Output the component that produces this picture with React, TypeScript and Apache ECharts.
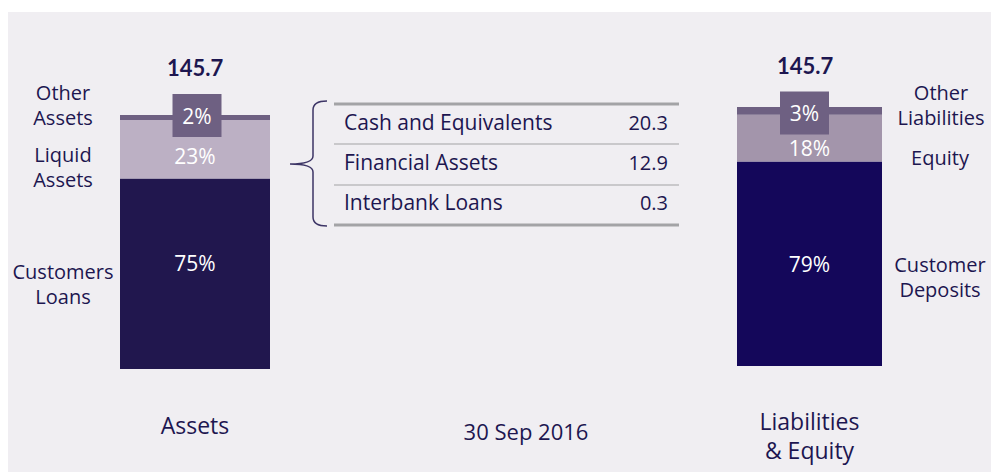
import React, { useEffect, useRef } from "react";
import * as echarts from "echarts";

const barCategories = ["Assets", "Liabilities\n& Equity"];
const assetNames = ["Customers\nLoans", "Liquid\nAssets", "Other\nAssets"];
const assetShares = [75, 23, 2];
const liabNames = ["Customer\nDeposits", "Equity", "Other\nLiabilities"];
const liabShares = [79, 18, 3];
const totals = ["145.7", "145.7"];
const liquidItems = ["Cash and Equivalents", "Financial Assets", "Interbank Loans"];
const liquidValues = ["20.3", "12.9", "0.3"];
const dateLabel = "30 Sep 2016";

const FONT = "'Open Sans', sans-serif";
const BOLD_FONT = "Lato, sans-serif";
const NAVY = "#1d1650";
const assetColors = ["#21174e", "#bcb0c4", "#6e6082"];
const liabColors = ["#14075a", "#a395ab", "#6e6082"];

echarts.graphic.registerShape(
  "brace",
  echarts.graphic.extendPath(
    "M327,101 Q313,101 313,110 L313,156 Q313,164 290,164 Q313,164 313,172 L313,217 Q313,226 327,226",
    {}
  )
);

export default function App() {
  const ref = useRef<HTMLDivElement>(null);
  useEffect(() => {
    if (!ref.current) return;
    const chart = echarts.init(ref.current, null, { renderer: "svg" });

    const labelBase = { show: true, color: "#fff", fontSize: 21, fontFamily: FONT, formatter: "{c}%" };
    const assetOffsets = [[0, -11], [0, 7], [2, -2]];
    const liabOffsets = [[0, 0], [0, 10], [-5, 2]];

    const mkSeries = (names: string[], vals: number[], colors: string[], offsets: number[][], idx: number) =>
      vals.map((v, i) => ({
        type: "bar",
        name: names[i],
        xAxisIndex: idx,
        yAxisIndex: idx,
        stack: "s" + idx,
        barWidth: "100%",
        data: [v],
        itemStyle: { color: colors[i] },
        label:
          i === vals.length - 1
            ? {
                ...labelBase,
                position: "inside",
                offset: offsets[i],
                backgroundColor: colors[i],
                width: 49,
                height: 43,
                lineHeight: 43,
                align: "center",
                verticalAlign: "middle",
                padding: 0,
              }
            : { ...labelBase, position: "inside", offset: offsets[i] },
      }));

    const sideLabel = (text: string, x: number, y: number) => ({
      type: "text",
      x,
      y,
      style: {
        text,
        fill: NAVY,
        font: `20px ${FONT}`,
        lineHeight: 25,
        align: "center",
        verticalAlign: "middle",
      },
    });

    const rowYs = [122, 162, 202];
    const lineYs = [104, 144, 185, 225];

    const graphics: any[] = [
      { type: "text", x: 195, y: 67, style: { text: totals[0], fill: NAVY, font: `bold 22px ${BOLD_FONT}`, align: "center", verticalAlign: "middle" } },
      { type: "text", x: 805, y: 65, style: { text: totals[1], fill: NAVY, font: `bold 22px ${BOLD_FONT}`, align: "center", verticalAlign: "middle" } },
      sideLabel(assetNames[2], 63, 105),
      sideLabel(assetNames[1], 63, 167),
      sideLabel(assetNames[0], 63, 284),
      sideLabel(liabNames[2], 941, 105),
      sideLabel(liabNames[1], 940, 157),
      sideLabel(liabNames[0], 940, 277),
      { type: "text", x: 526, y: 431, style: { text: dateLabel, fill: NAVY, font: `22px ${FONT}`, align: "center", verticalAlign: "middle" } },
      { type: "brace", shape: {}, style: { stroke: "#3d3566", lineWidth: 1.5, fill: null } },
    ];
    lineYs.forEach((y, i) => {
      const outer = i === 0 || i === lineYs.length - 1;
      graphics.push({
        type: "line",
        shape: { x1: 334, y1: y, x2: 679, y2: y },
        style: { stroke: outer ? "#a3a3a6" : "#c9c8cb", lineWidth: outer ? 3 : 2 },
      });
    });
    liquidItems.forEach((t, i) => {
      graphics.push({ type: "text", x: 344, y: rowYs[i], style: { text: t, fill: NAVY, font: `21px ${FONT}`, align: "left", verticalAlign: "middle" } });
      graphics.push({ type: "text", x: 668, y: rowYs[i], style: { text: liquidValues[i], fill: NAVY, font: `20px ${FONT}`, align: "right", verticalAlign: "middle" } });
    });

    const xAxisBase = {
      type: "category",
      axisLine: { show: false },
      axisTick: { show: false },
      splitLine: { show: false },
    };
    const yAxisBase = { type: "value", min: 0, max: 100, show: false };

    chart.setOption({
      animation: false,
      backgroundColor: "transparent",
      textStyle: { fontFamily: FONT },
      grid: [
        { left: 120, width: 150, top: 115, height: 254 },
        { left: 737, width: 145, top: 107, height: 259 },
      ],
      xAxis: [
        { ...xAxisBase, gridIndex: 0, data: [barCategories[0]], axisLabel: { color: NAVY, fontSize: 23, fontFamily: FONT, lineHeight: 29, margin: 41 } },
        { ...xAxisBase, gridIndex: 1, data: [barCategories[1]], axisLabel: { color: NAVY, fontSize: 23, fontFamily: FONT, lineHeight: 29, margin: 40 } },
      ],
      yAxis: [
        { ...yAxisBase, gridIndex: 0 },
        { ...yAxisBase, gridIndex: 1 },
      ],
      series: [
        ...mkSeries(assetNames, assetShares, assetColors, assetOffsets, 0),
        ...mkSeries(liabNames, liabShares, liabColors, liabOffsets, 1),
      ],
      graphic: graphics,
    });
    return () => chart.dispose();
  }, []);

  return (
    <div style={{ position: "absolute", left: 0, top: 0, width: 991, height: 472, background: "#fff" }}>
      <div style={{ position: "absolute", left: 8, top: 12, right: 0, bottom: 0, background: "#f0eef2" }} />
      <div ref={ref} style={{ position: "absolute", left: 0, top: 0, width: 991, height: 472 }} />
    </div>
  );
}
